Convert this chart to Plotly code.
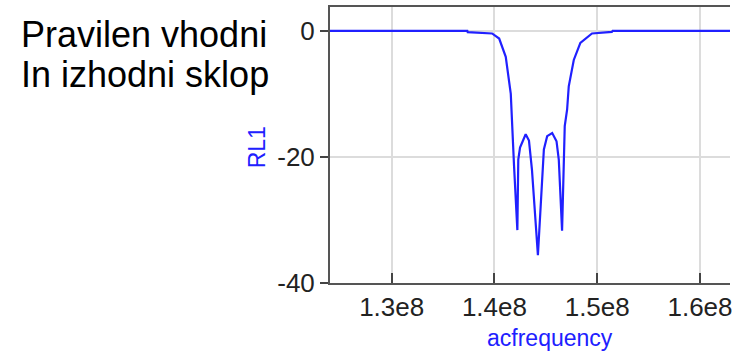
import plotly.graph_objects as go

# RL1 response (frequency in Hz, value in dB)
acfrequency = [
    1.20e8, 1.3736e8, 1.3740e8, 1.3977e8, 1.4046e8, 1.4110e8, 1.4159e8,
    1.4174e8, 1.4191e8, 1.4223e8, 1.4232e8, 1.4249e8, 1.4304e8, 1.4336e8,
    1.4365e8, 1.4423e8, 1.4481e8, 1.4513e8, 1.4562e8, 1.4604e8, 1.4626e8,
    1.4658e8, 1.4684e8, 1.4707e8, 1.4723e8, 1.4772e8, 1.4836e8, 1.4949e8,
    1.5142e8, 1.5150e8, 1.70e8,
]
rl1 = [
    0.0, 0.0, -0.2, -0.4, -1.2, -4.1, -10.0,
    -14.5, -21.5, -31.6, -20.4, -18.5, -16.4, -17.4,
    -22.0, -35.6, -18.8, -16.7, -16.2, -17.5, -20.4,
    -31.7, -15.1, -12.5, -8.8, -4.6, -1.9, -0.4,
    -0.15, 0.0, 0.0,
]

x_ticks = [1.3e8, 1.4e8, 1.5e8, 1.6e8]
x_tick_text = ["1.3e8", "1.4e8", "1.5e8", "1.6e8"]
y_ticks = [0, -20, -40]
y_tick_text = ["0", "-20", "-40"]

FONT = "Liberation Sans, Arial, sans-serif"
BLUE = "#2020ff"

fig = go.Figure()
fig.add_trace(go.Scatter(
    x=acfrequency, y=rl1, mode="lines",
    line=dict(color=BLUE, width=2.2),
    showlegend=False,
))

fig.update_layout(
    width=732, height=353, autosize=False,
    margin=dict(l=330, r=0, t=7, b=70),
    paper_bgcolor="white", plot_bgcolor="white",
    font=dict(family=FONT, color="#222"),
    xaxis=dict(
        range=[1.24e8, 1.6292e8],
        tickvals=x_ticks, ticktext=x_tick_text,
        tickfont=dict(size=26, color="#222"),
        ticks="inside", ticklen=10, tickwidth=2, tickcolor="#444",
        ticklabelstandoff=0, ticklabeloverflow="allow",
        showgrid=True, gridcolor="#dcdcdc", gridwidth=2,
        showline=True, linecolor="#555", linewidth=2, mirror=True,
        zeroline=False,
    ),
    yaxis=dict(
        range=[-40, 3.8],
        tickvals=y_ticks, ticktext=y_tick_text,
        tickfont=dict(size=26, color="#222"),
        ticks="outside", ticklen=8, tickwidth=2, tickcolor="#444",
        showgrid=True, gridcolor="#dcdcdc", gridwidth=2,
        showline=True, linecolor="#555", linewidth=2, mirror=False,
        zeroline=False,
    ),
    annotations=[
        dict(text="acfrequency", xref="paper", yref="paper",
             x=0.55, y=-0.199, xanchor="center", yanchor="middle",
             showarrow=False, font=dict(size=23, color=BLUE)),
        dict(text="RL1", xref="paper", yref="paper",
             x=-0.1816, y=0.493, xanchor="center", yanchor="middle",
             textangle=-90, showarrow=False, font=dict(size=23, color=BLUE)),
        dict(text="Pravilen vhodni", xref="paper", yref="paper",
             x=-0.7786, y=0.899, xanchor="left", yanchor="middle",
             showarrow=False, font=dict(size=36, color="black")),
        dict(text="In izhodni sklop", xref="paper", yref="paper",
             x=-0.7786, y=0.757, xanchor="left", yanchor="middle",
             showarrow=False, font=dict(size=36, color="black")),
    ],
)

# no page margin or scrollbars, so the figure fills the window exactly
fig.write_html(
    "out.html",
    config={"displayModeBar": False},
    post_script=(
        "document.body.style.margin='0';"
        "document.body.style.overflow='hidden';"
        "document.documentElement.style.overflow='hidden';"
    ),
)
